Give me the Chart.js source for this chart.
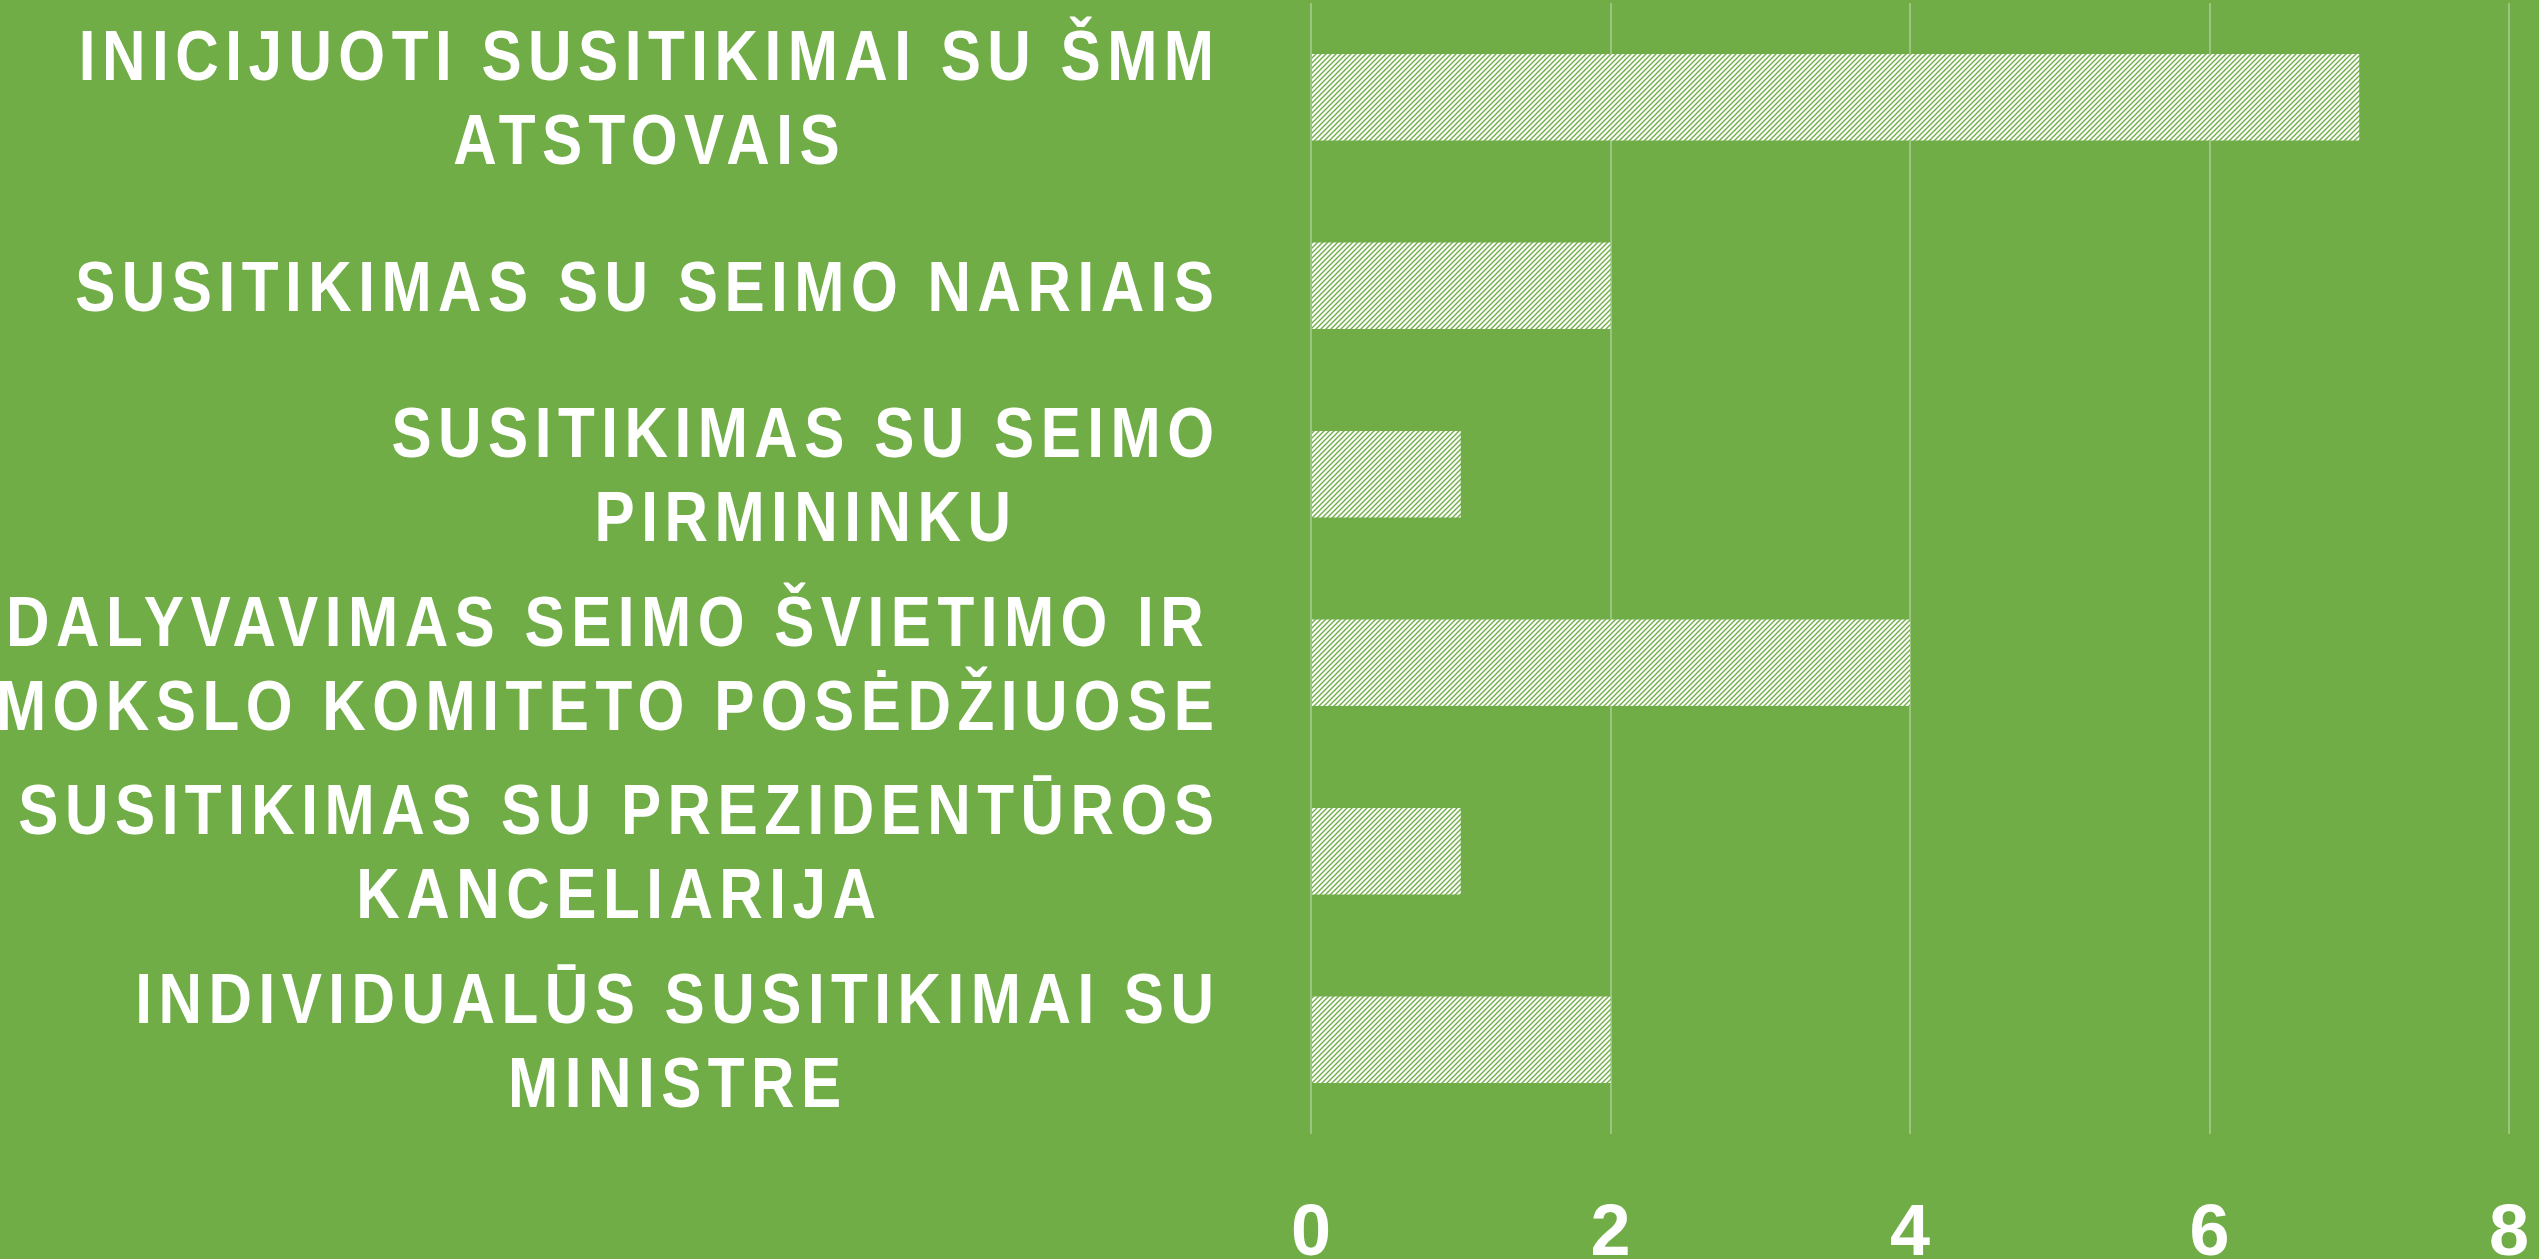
<!DOCTYPE html>
<html>
<head>
<meta charset="utf-8">
<script src="https://cdn.jsdelivr.net/npm/chart.js@4/dist/chart.umd.min.js"></script>
<style>
  html, body { margin: 0; padding: 0; background: #70ad47; overflow: hidden; }
  canvas { display: block; }
</style>
</head>
<body>
<canvas id="chart" width="2539" height="1259"></canvas>
<script>
// ======================
// Data
// ======================
const categories = [
    ["INICIJUOTI SUSITIKIMAI SU ŠMM", "ATSTOVAIS"],
    ["SUSITIKIMAS SU SEIMO NARIAIS"],
    ["SUSITIKIMAS SU SEIMO", "PIRMININKU"],
    ["DALYVAVIMAS SEIMO ŠVIETIMO IR", "MOKSLO KOMITETO POSĖDŽIUOSE"],
    ["SUSITIKIMAS SU PREZIDENTŪROS", "KANCELIARIJA"],
    ["INDIVIDUALŪS SUSITIKIMAI SU", "MINISTRE"]
];
const values = [7, 2, 1, 4, 1, 2];
const tickValues = [0, 2, 4, 6, 8];

const GREEN = "#70ad47";
const FONT = "'Liberation Sans', Arial, sans-serif";

// hatch fill: white with thin green "/" stripes
function makeHatch() {
    const p = 5;
    const c = document.createElement("canvas");
    c.width = p; c.height = p;
    const g = c.getContext("2d");
    g.fillStyle = "#ffffff";
    g.fillRect(0, 0, p, p);
    g.strokeStyle = GREEN;
    g.lineWidth = 1.4;
    g.beginPath();
    g.moveTo(0, p); g.lineTo(p, 0);
    g.moveTo(-1, 1); g.lineTo(1, -1);
    g.moveTo(p - 1, p + 1); g.lineTo(p + 1, p - 1);
    g.stroke();
    return g.createPattern(c, "repeat");
}

// ======================
// Labels: category blocks right-aligned, lines centered in the block
// (condensed look: squeezed horizontally + letter spacing);
// value ticks centered under their gridlines
// ======================
const labelPlugin = {
    id: "labels",
    afterDraw(chart) {
        const ctx = chart.ctx;
        const { x, y } = chart.scales;
        const right = chart.chartArea.left - 97;
        const lineH = 84;
        const sx = 0.86;
        const spacing = 6.5 / sx;
        ctx.save();
        ctx.fillStyle = "#ffffff";
        ctx.textAlign = "center";
        ctx.textBaseline = "alphabetic";

        ctx.save();
        ctx.scale(sx, 1);
        ctx.font = "bold 70px " + FONT;
        ctx.letterSpacing = spacing + "px";
        categories.forEach((lines, i) => {
            const cy = y.getPixelForValue(i);
            const w = Math.max(...lines.map(l => ctx.measureText(l).width - spacing)) * sx;
            const cx = right - w / 2;
            lines.forEach((l, k) => {
                ctx.fillText(l, cx / sx + spacing / 2, cy + 25 + (k - (lines.length - 1) / 2) * lineH);
            });
        });
        ctx.restore();

        ctx.font = "bold 72px " + FONT;
        tickValues.forEach(v => {
            ctx.fillText(String(v), x.getPixelForValue(v), 1255);
        });
        ctx.restore();
    }
};

new Chart(document.getElementById("chart"), {
    type: "bar",
    data: {
        labels: categories,
        datasets: [{
            data: values,
            backgroundColor: makeHatch(),
            borderWidth: 0,
            barPercentage: 0.46,
            categoryPercentage: 1
        }]
    },
    plugins: [labelPlugin],
    options: {
        indexAxis: "y",
        responsive: false,
        animation: false,
        devicePixelRatio: 1,
        layout: { padding: { top: 3, right: 30, left: 0, bottom: 0 } },
        plugins: {
            legend: { display: false },
            tooltip: { enabled: false }
        },
        scales: {
            x: {
                min: tickValues[0],
                max: tickValues[tickValues.length - 1],
                afterBuildTicks: s => { s.ticks = tickValues.map(v => ({ value: v })); },
                grid: { color: "rgba(255,255,255,0.3)", lineWidth: 2, drawTicks: false },
                border: { display: false },
                ticks: { display: false },
                afterFit: s => { s.height = 125; }
            },
            y: {
                grid: { display: false },
                border: { display: false },
                ticks: { display: false },
                afterFit: s => { s.width = 1311; }
            }
        }
    }
});
</script>
</body>
</html>
